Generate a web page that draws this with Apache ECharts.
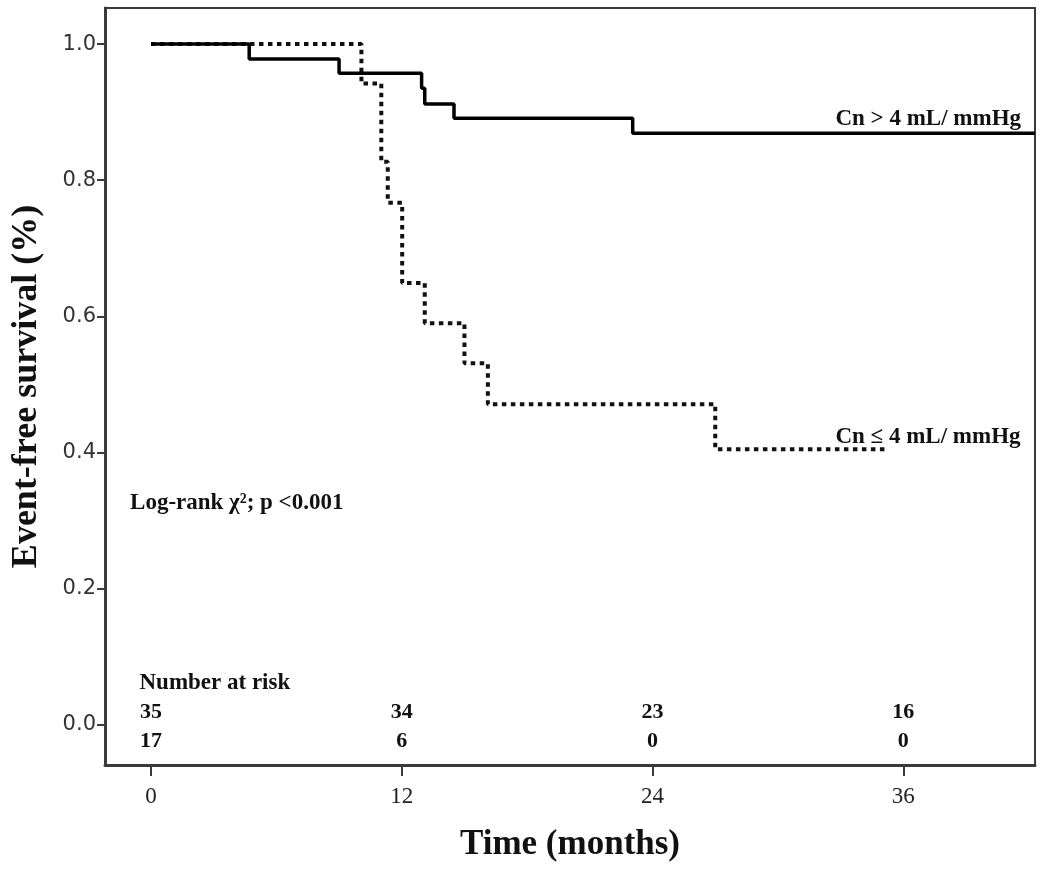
<!DOCTYPE html>
<html>
<head>
<meta charset="utf-8">
<script src="https://cdn.jsdelivr.net/npm/echarts@6/dist/echarts.min.js"></script>
<style>html,body{margin:0;padding:0;background:#fff;}#c{width:1050px;height:870px;}</style>
</head>
<body>
<div id="c"></div>
<script>
// Kaplan-Meier step data (time in months, event-free survival)
const highTimes = [0, 4.7, 9.0, 12.95, 13.1, 14.5, 23.05, 42.3];
const highSurv  = [1.0, 0.978, 0.957, 0.935, 0.912, 0.891, 0.869, 0.869];
const lowTimes  = [0, 10.07, 11.02, 11.33, 12.02, 13.1, 15.0, 16.12, 27.0, 35.1];
const lowSurv   = [1.0, 0.942, 0.827, 0.767, 0.649, 0.590, 0.531, 0.471, 0.405, 0.405];
const xTicks = [0, 12, 24, 36];
const yTicks = [0, 0.2, 0.4, 0.6, 0.8, 1.0];
const riskTimes = [0, 12, 24, 36];
const riskHigh = [35, 34, 23, 16];
const riskLow  = [17, 6, 0, 0];
const labelHigh = 'Cn > 4 mL/ mmHg';
const labelLow  = 'Cn ≤ 4 mL/ mmHg';
const statText = 'Log-rank χ²; p <0.001';

const serif = '"Liberation Serif","Times New Roman",serif';
const chart = echarts.init(document.getElementById('c'), null, {renderer: 'canvas'});
const zip = (t, s) => t.map((v, i) => [v, s[i]]);
const axisColor = '#3a3a3a';

chart.setOption({
  animation: false,
  backgroundColor: '#fff',
  grid: {left: 105, right: 15, top: 8, bottom: 105, show: true, borderColor: axisColor, borderWidth: 2, backgroundColor: 'transparent'},
  xAxis: {
    type: 'value', min: -2.2, max: 42.3,
    name: 'Time (months)', nameLocation: 'middle', nameGap: 62,
    nameTextStyle: {fontFamily: serif, fontWeight: 'bold', fontSize: 35, color: '#111'},
    splitLine: {show: false},
    axisLine: {onZero: false, lineStyle: {color: axisColor, width: 3}},
    axisTick: {show: true, length: 11, customValues: xTicks, lineStyle: {color: axisColor, width: 2}},
    axisLabel: {customValues: xTicks, fontFamily: serif, fontSize: 23, color: '#222', margin: 20}
  },
  yAxis: {
    type: 'value', min: -0.059, max: 1.053,
    name: 'Event-free survival (%)', nameLocation: 'middle', nameGap: 60, nameRotate: 90,
    nameTextStyle: {fontFamily: serif, fontWeight: 'bold', fontSize: 36, color: '#111'},
    splitLine: {show: false},
    axisLine: {onZero: false, lineStyle: {color: axisColor, width: 3}},
    axisTick: {show: true, length: 8, customValues: yTicks, lineStyle: {color: axisColor, width: 2}},
    axisLabel: {customValues: yTicks, formatter: v => v.toFixed(1), fontFamily: '"DejaVu Sans",sans-serif', fontSize: 21, color: '#333', margin: 9}
  },
  series: [
    {type: 'line', step: 'end', data: zip(lowTimes, lowSurv), symbol: 'none', z: 2,
     lineStyle: {color: '#111', width: 4, type: [4.5, 4.5]}},
    {type: 'line', step: 'end', data: zip(highTimes, highSurv), symbol: 'none', z: 3,
     lineStyle: {color: '#000', width: 3.5}}
  ]
});

function px(x, y) { return chart.convertToPixel({gridIndex: 0}, [x, y]); }
const g = [];
function txt(p, text, size, bold, align, vAlign) {
  g.push({type: 'text', x: p[0], y: p[1], z: 10,
    style: {text: text, fontFamily: serif, fontSize: size, fontWeight: bold ? 'bold' : 'normal',
            fill: '#111', align: align, verticalAlign: vAlign}});
}
// curve labels
const ph = px(32.75, 0.869);
txt([ph[0], ph[1] - 3], labelHigh, 23, true, 'left', 'bottom');
txt(px(32.75, 0.423), labelLow, 23, true, 'left', 'middle');
// statistic
txt(px(-1.0, 0.326), statText, 23, true, 'left', 'middle');
// number at risk
const base0 = px(0, 0);
txt([px(-0.55, 0)[0], base0[1] - 42], 'Number at risk', 23, true, 'left', 'middle');
riskTimes.forEach((t, i) => {
  const p = px(t, 0);
  txt([p[0], p[1] - 13], String(riskHigh[i]), 22, true, 'center', 'middle');
  txt([p[0], p[1] + 16], String(riskLow[i]), 22, true, 'center', 'middle');
});
chart.setOption({graphic: g});
</script>
</body>
</html>
